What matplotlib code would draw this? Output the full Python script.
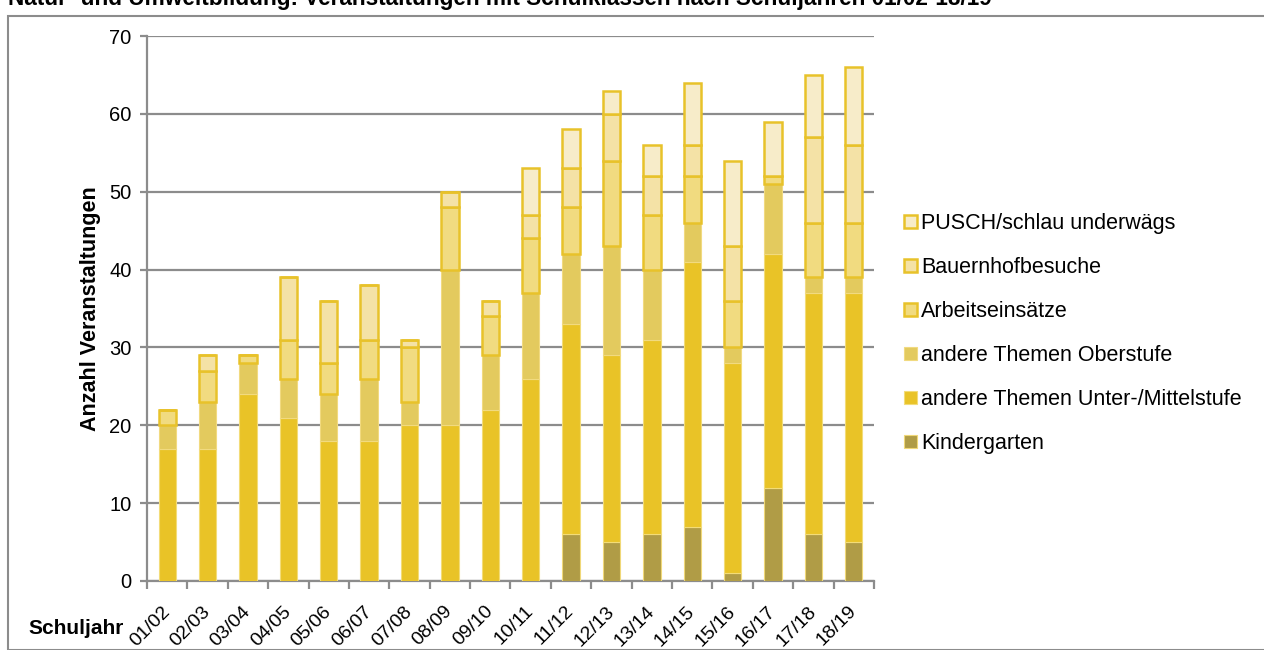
import matplotlib.pyplot as plt
from matplotlib.patches import Rectangle
from matplotlib.transforms import ScaledTranslation
import numpy as np

plt.rcParams['font.family'] = ['Liberation Sans', 'DejaVu Sans']

# Schuljahre
schuljahre = ['01/02', '02/03', '03/04', '04/05', '05/06', '06/07', '07/08', '08/09', '09/10',
              '10/11', '11/12', '12/13', '13/14', '14/15', '15/16', '16/17', '17/18', '18/19']

# Anzahl Veranstaltungen je Kategorie (von unten nach oben gestapelt)
kindergarten = [0, 0, 0, 0, 0, 0, 0, 0, 0, 0, 6, 5, 6, 7, 1, 12, 6, 5]
unter_mittel = [17, 17, 24, 21, 18, 18, 20, 20, 22, 26, 27, 24, 25, 34, 27, 30, 31, 32]
oberstufe = [3, 6, 4, 5, 6, 8, 3, 20, 7, 11, 9, 14, 9, 5, 2, 9, 2, 2]
arbeitseinsaetze = [2, 4, 1, 5, 4, 5, 7, 8, 5, 7, 6, 11, 7, 6, 6, 1, 7, 7]
bauernhof = [0, 2, 0, 8, 8, 7, 1, 2, 2, 3, 5, 6, 5, 4, 7, 0, 11, 10]
pusch = [0, 0, 0, 0, 0, 0, 0, 0, 0, 6, 5, 3, 4, 8, 11, 7, 8, 10]

serien = [
    ('Kindergarten', kindergarten, '#b09c46', '#f0d878', 0.8),
    ('andere Themen Unter-/Mittelstufe', unter_mittel, '#e9c327', '#f3dc78', 0.8),
    ('andere Themen Oberstufe', oberstufe, '#e3ca5e', '#f1da80', 0.8),
    ('Arbeitseinsätze', arbeitseinsaetze, '#f1db80', '#e8c22a', 1.8),
    ('Bauernhofbesuche', bauernhof, '#f4e2a6', '#e8c22a', 1.8),
    ('PUSCH/schlau underwägs', pusch, '#f7ecc9', '#e8c22a', 1.8),
]

fig = plt.figure(figsize=(12.64, 6.5), dpi=100)
ax = fig.add_axes([147 / 1264, 1 - 581 / 650, (874 - 147) / 1264, (581 - 36) / 650])

x = np.arange(len(schuljahre))
bottom = np.zeros(len(schuljahre))
handles = []
for name, vals, fc, ec, lw in serien:
    vals = np.array(vals, dtype=float)
    b = ax.bar(x, vals, width=0.43, bottom=bottom, color=fc, edgecolor=ec,
               linewidth=lw, label=name, zorder=3)
    handles.append(b)
    bottom += vals

grau = '#8c8c8c'
ax.set_ylim(0, 70)
ax.set_xlim(-0.5, len(schuljahre) - 0.5)
ax.set_yticks(range(0, 71, 10))
ax.yaxis.grid(True, color=grau, linewidth=1.6)
ax.set_axisbelow(True)
for s in ['top', 'right']:
    ax.spines[s].set_visible(False)
for s in ['left', 'bottom']:
    ax.spines[s].set_color(grau)
    ax.spines[s].set_linewidth(1.6)

ax.tick_params(axis='y', length=5, width=1.6, color=grau, labelsize=14.5, pad=6)
ax.set_xticks(x)
ax.set_xticklabels(schuljahre, rotation=45, ha='right', va='center',
                   rotation_mode='anchor', fontsize=14)
ax.tick_params(axis='x', which='major', length=0, pad=20)
verschiebung = ScaledTranslation(0, 0, fig.dpi_scale_trans)
for lab in ax.get_xticklabels():
    lab.set_transform(lab.get_transform() + verschiebung)
ax.set_xticks(np.arange(-0.5, len(schuljahre), 1), minor=True)
ax.tick_params(axis='x', which='minor', length=6, width=1.6, color=grau)

ax.set_ylabel('Anzahl Veranstaltungen', fontsize=15.5, fontweight='bold', labelpad=6)
fig.text(28 / 1264, 1 - 628 / 650, 'Schuljahr', fontsize=15, fontweight='bold',
         ha='left', va='center')

# Titel (oben abgeschnitten wie im Original)
fig.text(8 / 1264, 1 - 5 / 650,
         'Natur- und Umweltbildung: Veranstaltungen mit Schulklassen nach Schuljahren 01/02-18/19',
         fontsize=16.3, fontweight='bold', ha='left', va='baseline')

# Rahmen um das Diagramm
fig.patches.append(Rectangle((8 / 1264, 0), 1, 1 - 16 / 650, transform=fig.transFigure,
                             fill=False, edgecolor=grau, linewidth=1.5))

fig.legend(handles[::-1], [s[0] for s in serien][::-1], loc='upper left',
           bbox_to_anchor=(904 / 1264, 1 - 213 / 650), frameon=False, fontsize=15.5,
           handlelength=0.6, handleheight=0.6, handletextpad=0.2,
           labelspacing=1.07, borderpad=0, borderaxespad=0)

fig.savefig('out.png', dpi=100)
